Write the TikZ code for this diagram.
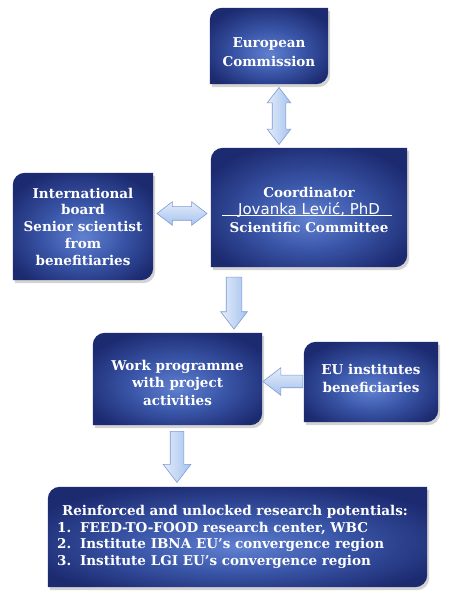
\documentclass[tikz,border=0pt]{standalone}
\usepackage{fontspec}
\setmainfont{DejaVu Serif}
\newfontfamily\jfont{DejaVu Sans}
\usetikzlibrary{shapes.arrows,shadows,backgrounds,calc}
\definecolor{boxdark}{RGB}{28,42,112}
\definecolor{boxmid}{RGB}{58,86,168}
\definecolor{boxlight}{RGB}{96,128,208}
\definecolor{arrtop}{RGB}{228,236,250}
\definecolor{arrbot}{RGB}{165,195,238}
\definecolor{arredge}{RGB}{125,155,212}
\pgfdeclareradialshading{boxglow}{\pgfpoint{0bp}{-5bp}}{color(0bp)=(boxlight); color(14bp)=(boxmid); color(30bp)=(boxdark); color(50bp)=(boxdark)}
\tikzset{
  boxn/.style={rectangle, inner sep=0pt, draw=none},
  boxtxt/.style={text=white, font=\bfseries\fontsize{13.5}{17.5}\selectfont, align=center, inner sep=0pt},
  boxshape/.style={shading=boxglow, drop shadow={opacity=0.35, shadow xshift=2pt, shadow yshift=-3pt}},
  sarr/.style={single arrow, draw=arredge, line width=0.6pt, single arrow tip angle=75},
  darr/.style={double arrow, draw=arredge, line width=0.6pt, double arrow tip angle=75},
  hshade/.style={top color=arrtop, bottom color=arrbot},
  vshade/.style={left color=arrtop, right color=arrbot},
}
\begin{document}
\begin{tikzpicture}[x=1pt,y=1pt]
\useasboundingbox (0,0) rectangle (450,600);
% boxes
\node[boxn, minimum width=118, minimum height=76] (ec) at (269,554) {};
\node[boxn, minimum width=196, minimum height=119] (co) at (309,392.5) {};
\node[boxn, minimum width=140, minimum height=107] (ib) at (83,373.5) {};
\node[boxn, minimum width=169, minimum height=92] (wp) at (177.5,221) {};
\node[boxn, minimum width=134, minimum height=80] (eu) at (371,218) {};
\node[boxn, minimum width=379, minimum height=100] (bt) at (237.5,63) {};
\begin{pgfonlayer}{background}
\foreach \n in {ec,co,ib,wp,eu,bt}{
  \path[boxshape] (\n.south west) -- ([yshift=-12pt]\n.north west)
    arc[start angle=180, end angle=90, radius=12pt] -- (\n.north east)
    -- ([yshift=12pt]\n.south east) arc[start angle=0, end angle=-90, radius=12pt] -- cycle;
}
\end{pgfonlayer}
% texts
\node[boxtxt, font=\bfseries\fontsize{13.5}{19}\selectfont] (ect) at ([yshift=-6pt]ec.center) {European\\Commission};
\node[boxtxt] (cot) at ([yshift=-2pt]co.center) {Coordinator\\{\jfont\mdseries\fontsize{15}{17.5}\selectfont Jovanka Lević, PhD}\\Scientific Committee};
\draw[white, line width=0.6pt] ($(co.center)+(-87,-7.5)$) coordinate (ul1) -- ($(co.center)+(83,-7.5)$) coordinate (ul2);
\node[boxtxt, font=\bfseries\fontsize{13.5}{16.75}\selectfont] (ibt) at (ib.center) {International\\board\\Senior scientist\\from\\benefitiaries};
\node[boxtxt] (wpt) at ([yshift=-3.5pt]wp.center) {Work programme\\with project\\activities};
\node[boxtxt, font=\bfseries\fontsize{13.5}{18}\selectfont] (eut) at ([yshift=4pt]eu.center) {EU institutes\\beneficiaries};
\node[boxtxt, align=left, font=\bfseries\fontsize{13.5}{16.7}\selectfont] (btt) at ([xshift=-5pt]bt.center) {\hspace*{5pt}Reinforced and unlocked research potentials:\\
\makebox[23pt][l]{1.}FEED-TO-FOOD research center, WBC\\
\makebox[23pt][l]{2.}Institute IBNA EU’s convergence region\\
\makebox[23pt][l]{3.}Institute LGI EU’s convergence region};
% arrows
\node[darr, vshade, inner sep=6.5pt, shape border rotate=90, minimum height=57, minimum width=23, double arrow head extend=5pt] (a1) at ($(ec.south)!0.5!(co.north)+(-10,0)$) {};
\node[darr, hshade, inner sep=6.5pt, minimum height=50, minimum width=23, double arrow head extend=5pt] (a2) at ($(ib.east)!0.5!(co.west)+(0,3.5)$) {};
\node[sarr, vshade, inner sep=7.5pt, shape border rotate=270, minimum height=52, minimum width=26, single arrow head extend=5.5pt] (a3) at (234,302) {};
\node[sarr, vshade, inner sep=6.5pt, shape border rotate=270, minimum height=51, minimum width=27, single arrow head extend=7pt] (a4) at (177,147.5) {};
\node[sarr, hshade, inner sep=6pt, shape border rotate=180, minimum height=40, minimum width=27, single arrow head extend=7.5pt] (a5) at ($(wp.east)!0.5!(eu.west)+(4,-1)$) {};
\end{tikzpicture}
\end{document}
